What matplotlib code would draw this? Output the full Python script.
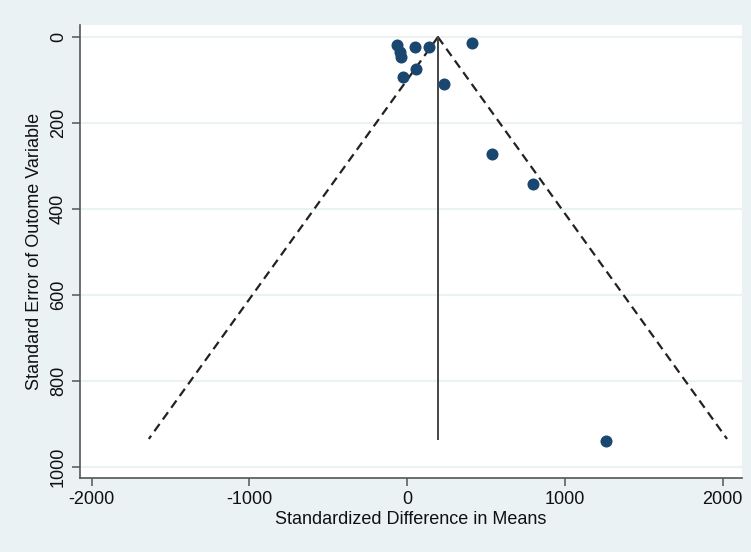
import matplotlib.pyplot as plt
import numpy as np

plt.rcParams['font.family'] = ['Liberation Sans', 'DejaVu Sans']
plt.rcParams['axes.unicode_minus'] = False

# study effects and their standard errors
effect = [-67, -46, -40, 49, 138, 414, 53, -27, 233, 540, 795, 1259]
std_err = [19, 34, 47, 23, 23, 13, 75, 93, 109, 272, 343, 939]

pooled = 195
se_max = 935
x_ticks = [-2000, -1000, 0, 1000, 2000]
y_ticks = [0, 200, 400, 600, 800, 1000]

bg = '#eaf2f3'
fig = plt.figure(figsize=(7.51, 5.52), dpi=100, facecolor=bg)
ax = fig.add_axes([0.1065, 0.134, 0.881, 0.8207])
ax.set_facecolor('white')

# funnel
se_line = np.array([0, se_max])
ax.plot(pooled - 1.96 * se_line, se_line, color='#222222', ls=(0, (4, 2.5)), lw=1.6)
ax.plot(pooled + 1.96 * se_line, se_line, color='#222222', ls=(0, (4, 2.5)), lw=1.6)
ax.plot([pooled, pooled], [0, se_max], color='#444444', lw=1.4)

ax.scatter(effect, std_err, s=75, color='#1a476f', zorder=3, linewidths=0)

ax.set_xlim(-2074, 2120)
ax.set_ylim(1026, -28)
ax.set_xticks(x_ticks)
ax.set_yticks(y_ticks)
ax.set_yticklabels([str(v) for v in y_ticks], rotation=90, va='center')
ax.grid(axis='y', color=bg, lw=1.5)
ax.set_axisbelow(True)

for s in ['top', 'right']:
    ax.spines[s].set_visible(False)
for s in ['left', 'bottom']:
    ax.spines[s].set_color('#555555')
    ax.spines[s].set_linewidth(1.2)
ax.tick_params(colors='#555555', labelcolor='#111111', labelsize=13, length=6, width=1.1)

ax.set_xlabel('Standardized Difference in Means', fontsize=13, color='#111111', labelpad=2)
ax.set_ylabel('Standard Error of Outome Variable', fontsize=13, color='#111111', labelpad=5)

fig.savefig('out.png', dpi=100, facecolor=bg)
